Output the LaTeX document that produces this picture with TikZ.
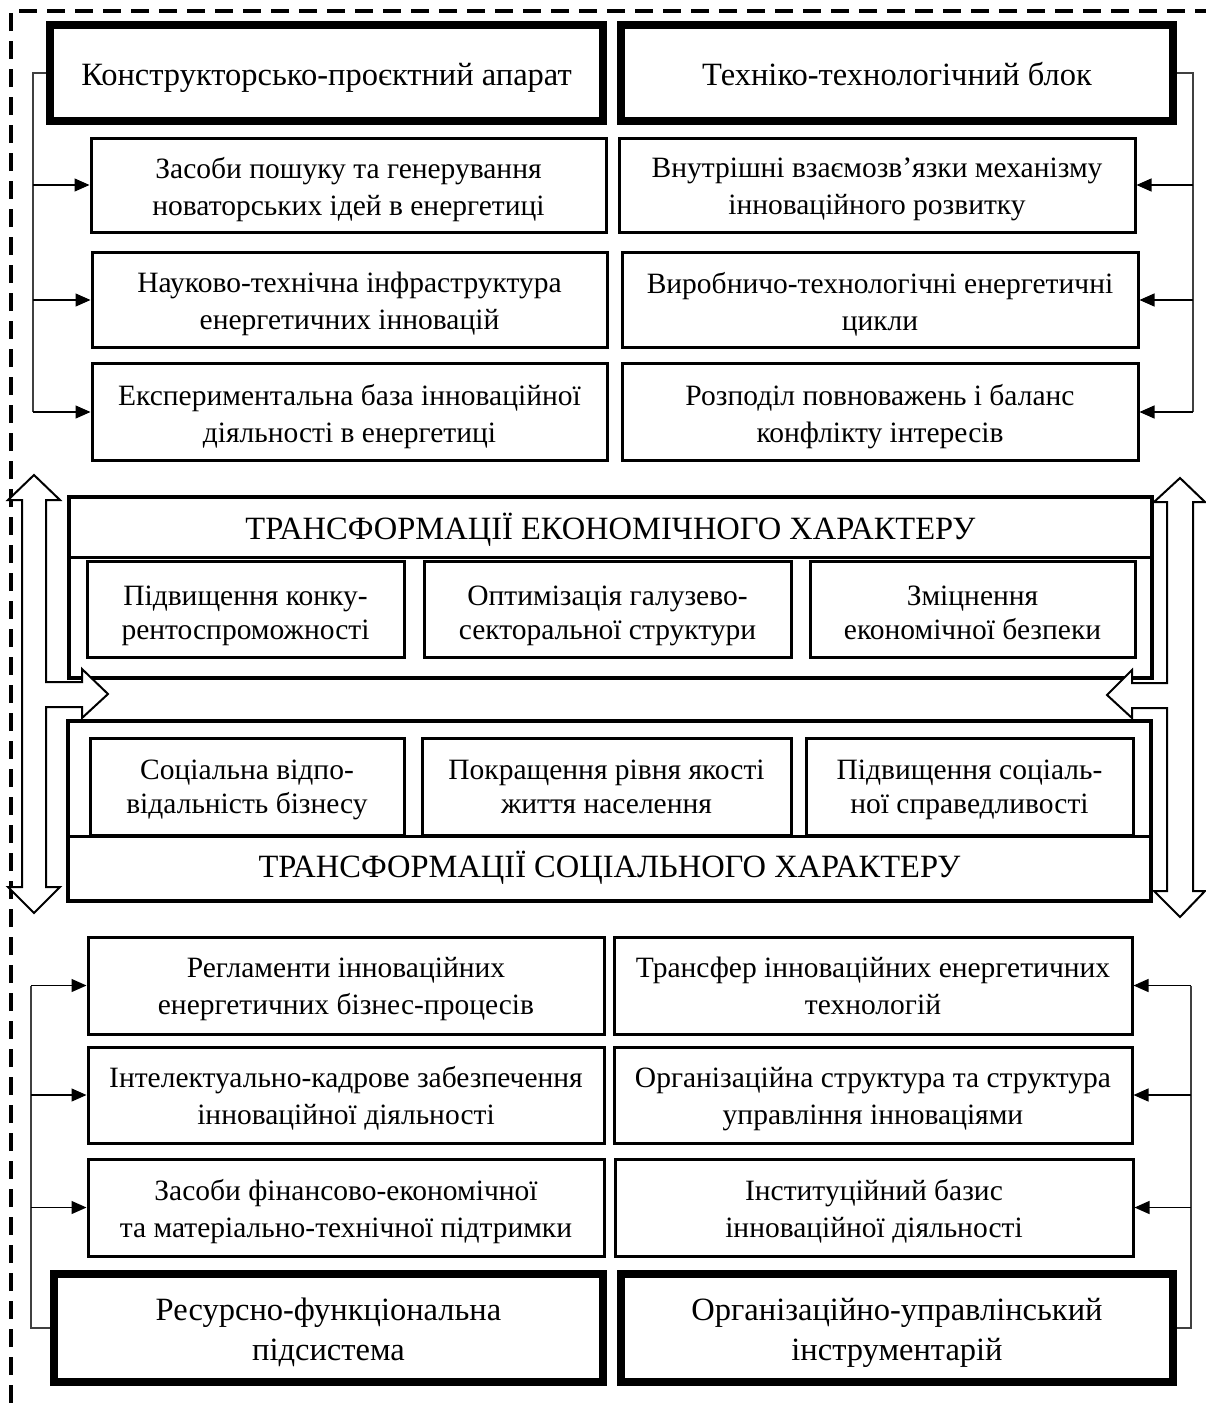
\documentclass[tikz,border=0pt]{standalone}
\usepackage{fontspec}
\setmainfont{Liberation Serif}
\usetikzlibrary{arrows.meta}
\newcommand\fsz{\fontsize{29.5}{37}\selectfont}
\newcommand\fsub{\fontsize{29.5}{33.5}\selectfont}
\newcommand\fbig{\fontsize{32.5}{40}\selectfont}
\begin{document}
\begin{tikzpicture}[x=1pt,y=-1pt,
  box/.style={draw, line width=3pt, fill=white, inner sep=0pt},
  hdr/.style={box, line width=8pt},
  bigbox/.style={draw, line width=4pt, fill=white, inner sep=0pt},
  txt/.style={align=center, inner sep=0pt, font=\fsz,
    execute at begin node=\strut, execute at end node=\strut},
  rowtxt/.style={txt, yshift=-6.5pt},
  subtxt/.style={txt, font=\fsub},
  hdrtxt/.style={txt, font=\fbig},
  ttl/.style={align=center, inner sep=0pt, font=\fbig, execute at begin node=\strut},
  arr/.style={-{Triangle[length=15pt,width=13pt]}, line width=1.3pt},
  brk/.style={line width=1.2pt, draw=black!75},
  dbl/.style={draw, line width=2pt, fill=white, line join=miter},
  border/.style={line width=4.5pt, dash pattern=on 18pt off 10pt}]
\useasboundingbox (0,0) rectangle (1206,1403);
\fill[white] (0,0) rectangle (1206,1403);
% dashed frame
\coordinate (fTL) at (11,11);
\coordinate (fTR) at (1206,11);
\coordinate (fBL) at (11,1403);
\draw[border] (fBL) -- (fTL) -- (fTR);

% top headers
\node[hdr, minimum width=553, minimum height=96, label={[hdrtxt, yshift=-4pt]center:{Конструкторсько-проєктний апарат}}] (hL) at (326.5,73) {};
\node[hdr, minimum width=552, minimum height=96, label={[hdrtxt, yshift=-4pt]center:{Техніко-технологічний блок}}] (hR) at (897,73) {};

% top rows
\node[box, minimum width=515, minimum height=94, label={[rowtxt]center:{Засоби пошуку та генерування\\новаторських ідей в енергетиці}}] (tl1) at (348.5,185) {};
\node[box, minimum width=515, minimum height=95, label={[rowtxt]center:{Науково-технічна інфраструктура\\енергетичних інновацій}}] (tl2) at (349.5,300) {};
\node[box, minimum width=515, minimum height=97, label={[rowtxt]center:{Експериментальна база інноваційної\\діяльності в енергетиці}}] (tl3) at (349.5,412) {};
\node[box, minimum width=516, minimum height=94, label={[rowtxt]center:{Внутрішні взаємозв’язки механізму\\інноваційного розвитку}}] (tr1) at (877,185) {};
\node[box, minimum width=516, minimum height=95, label={[rowtxt]center:{Виробничо-технологічні енергетичні\\цикли}}] (tr2) at (880,300) {};
\node[box, minimum width=516, minimum height=97, label={[rowtxt]center:{Розподіл повноважень і баланс\\конфлікту інтересів}}] (tr3) at (880,412) {};

% top brackets
\coordinate (bTL) at (33,0);
\coordinate (bTR) at (1193,0);
\draw[brk] (hL.west) -| (bTL |- tl3.west);
\draw[arr] (bTL |- tl1.west) -- (tl1.west);
\draw[arr] (bTL |- tl2.west) -- (tl2.west);
\draw[arr] (bTL |- tl3.west) -- (tl3.west);
\draw[brk] (hR.east) -| (bTR |- tr3.east);
\draw[arr] (bTR |- tr1.east) -- (tr1.east);
\draw[arr] (bTR |- tr2.east) -- (tr2.east);
\draw[arr] (bTR |- tr3.east) -- (tr3.east);

% economic block
\node[bigbox, minimum width=1083, minimum height=181] (eco) at (610.5,587.5) {};
\node[ttl, yshift=-4pt] (ecoT) at (610.5,527) {ТРАНСФОРМАЦІЇ ЕКОНОМІЧНОГО ХАРАКТЕРУ};
\coordinate (ecoL) at (557,557);
\draw[line width=3pt] (eco.west |- ecoL) -- (eco.east |- ecoL);
\node[box, minimum width=317, minimum height=96, label={[subtxt, yshift=-8.5pt]center:{Підвищення конку-\\рентоспроможності}}] (e1) at (245.5,609) {};
\node[box, minimum width=367, minimum height=96, label={[subtxt, yshift=-8.5pt]center:{Оптимізація галузево-\\секторальної структури}}] (e2) at (607.5,609) {};
\node[box, minimum width=325, minimum height=96, label={[subtxt, yshift=-8.5pt]center:{Зміцнення\\економічної безпеки}}] (e3) at (972.5,609) {};

% social block
\node[bigbox, minimum width=1083, minimum height=180] (soc) at (609.5,811) {};
\node[ttl, yshift=-1.5pt] (socT) at (609.5,868) {ТРАНСФОРМАЦІЇ СОЦІАЛЬНОГО ХАРАКТЕРУ};
\node[box, minimum width=314, minimum height=97, label={[subtxt, yshift=-5pt]center:{Соціальна відпо-\\відальність бізнесу}}] (s1) at (247,786.5) {};
\node[box, minimum width=369, minimum height=97, label={[subtxt, yshift=-5pt]center:{Покращення рівня якості\\життя населення}}] (s2) at (606.5,786.5) {};
\node[box, minimum width=327, minimum height=97, label={[subtxt, yshift=-5pt]center:{Підвищення соціаль-\\ної справедливості}}] (s3) at (969.5,786.5) {};
\draw[line width=3pt] (soc.west |- s1.south) -- (soc.east |- s1.south);

% double arrows
\draw[dbl] (34,475) -- (60,500) -- (46,500) -- (46,682) -- (82,682) -- (82,669) -- (108,694) -- (82,718) -- (82,707) -- (46,707) -- (46,887) -- (60,887) -- (34,913) -- (8,887) -- (22,887) -- (22,500) -- (8,500) -- cycle;
\draw[dbl] (1180,478) -- (1205,502) -- (1193,502) -- (1193,891) -- (1205,891) -- (1180,917) -- (1154,891) -- (1167,891) -- (1167,708) -- (1132,708) -- (1132,718) -- (1107,695) -- (1132,670) -- (1132,683) -- (1167,683) -- (1167,502) -- (1154,502) -- cycle;

% bottom rows
\node[box, minimum width=516, minimum height=97, label={[rowtxt, yshift=0.5pt]center:{Регламенти інноваційних\\енергетичних бізнес-процесів}}] (bl1) at (346,985.5) {};
\node[box, minimum width=516, minimum height=96, label={[rowtxt, yshift=0.5pt]center:{Інтелектуально-кадрове забезпечення\\інноваційної діяльності}}] (bl2) at (346,1095) {};
\node[box, minimum width=516, minimum height=97, label={[rowtxt, yshift=0.5pt]center:{Засоби фінансово-економічної\\та матеріально-технічної підтримки}}] (bl3) at (346,1207.5) {};
\node[box, minimum width=518, minimum height=97, label={[rowtxt, yshift=0.5pt]center:{Трансфер інноваційних енергетичних\\технологій}}] (br1) at (873,985.5) {};
\node[box, minimum width=518, minimum height=96, label={[rowtxt, yshift=0.5pt]center:{Організаційна структура та структура\\управління інноваціями}}] (br2) at (873,1095) {};
\node[box, minimum width=518, minimum height=97, label={[rowtxt, yshift=0.5pt]center:{Інституційний базис\\інноваційної діяльності}}] (br3) at (874,1207.5) {};

% bottom headers
\node[hdr, minimum width=549, minimum height=108, label={[hdrtxt, yshift=-7.5pt]center:{Ресурсно-функціональна\\підсистема}}] (fL) at (328.5,1328) {};
\node[hdr, minimum width=552, minimum height=108, label={[hdrtxt, yshift=-7.5pt]center:{Організаційно-управлінський\\інструментарій}}] (fR) at (897,1328) {};

% bottom brackets
\coordinate (bBL) at (31,0);
\coordinate (bBR) at (1191,0);
\draw[brk] (fL.west) -| (bBL |- bl1.west);
\draw[arr] (bBL |- bl1.west) -- (bl1.west);
\draw[arr] (bBL |- bl2.west) -- (bl2.west);
\draw[arr] (bBL |- bl3.west) -- (bl3.west);
\draw[brk] (fR.east) -| (bBR |- br1.east);
\draw[arr] (bBR |- br1.east) -- (br1.east);
\draw[arr] (bBR |- br2.east) -- (br2.east);
\draw[arr] (bBR |- br3.east) -- (br3.east);
\end{tikzpicture}
\end{document}
